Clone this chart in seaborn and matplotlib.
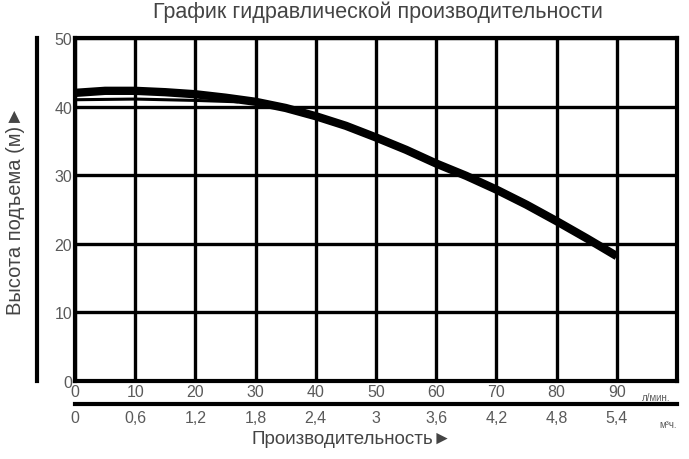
import numpy as np
import pandas as pd
import matplotlib
matplotlib.use("Agg")
import matplotlib.pyplot as plt
import seaborn as sns

# ---- data ----
flow_lmin = [0, 5, 10, 15, 20, 25, 30, 35, 40, 45, 50, 55, 60, 65, 70, 75, 80, 85, 90]
head_m = [42.0, 42.3, 42.3, 42.1, 41.8, 41.3, 40.7, 39.8, 38.6, 37.2, 35.5, 33.7,
          31.7, 29.9, 27.9, 25.7, 23.3, 20.8, 18.2]
flow_lmin_2 = [0, 10, 20, 27]
head_m_2 = [41.0, 41.1, 40.9, 40.7]

x_ticks = [0, 10, 20, 30, 40, 50, 60, 70, 80, 90, 100]
x_labels = ["0", "10", "20", "30", "40", "50", "60", "70", "80", "90", ""]
m3h_ticks = [0, 0.6, 1.2, 1.8, 2.4, 3.0, 3.6, 4.2, 4.8, 5.4]
m3h_labels = ["0", "0,6", "1,2", "1,8", "2,4", "3", "3,6", "4,2", "4,8", "5,4"]
y_ticks = [0, 10, 20, 30, 40, 50]

title = "График гидравлической производительности"
xlabel = "Производительность►"
ylabel = "Высота подъема (м)►"
unit1 = "л/мин."
unit2 = "м³ч."

sns.set_theme(style="white")
fams = ["Liberation Sans Narrow", "Liberation Sans", "DejaVu Sans"]
plt.rcParams["font.family"] = fams

W, H = 689, 460
fig = plt.figure(figsize=(W / 100, H / 100), dpi=100)
L, R, T, B = 75, 677, 39, 382
ax = fig.add_axes([L / W, 1 - B / H, (R - L) / W, (B - T) / H])

df1 = pd.DataFrame({"x": flow_lmin, "y": head_m})
df2 = pd.DataFrame({"x": flow_lmin_2, "y": head_m_2})
sns.lineplot(data=df2, x="x", y="y", ax=ax, color="black", lw=2.2, zorder=4,
             solid_joinstyle="round")
sns.lineplot(data=df1, x="x", y="y", ax=ax, color="black", lw=6.0, zorder=5,
             solid_capstyle="butt", solid_joinstyle="round")

ax.set_xlim(0, 100)
ax.set_ylim(0, 50)
ax.set_xticks(x_ticks)
ax.set_xticklabels(x_labels)
ax.set_yticks(y_ticks)
ax.grid(True, color="black", lw=2.4)
ax.set_axisbelow(True)
for s in ax.spines.values():
    s.set_color("black")
    s.set_linewidth(3.0)
txtcol = "#5a5a5a"
ax.tick_params(axis="x", length=0, pad=2, labelsize=11.5, labelcolor=txtcol)
ax.tick_params(axis="y", length=0, pad=2, labelsize=11.5, labelcolor=txtcol)
ax.set_xlabel("")
ax.set_ylabel(ylabel, fontsize=14.5, color="#444444")
ax.yaxis.set_label_coords(-(L - 25) / (R - L), 0.5)

# second x axis (m3/h)
sec = ax.secondary_xaxis(-23 / (B - T), functions=(lambda v: v * 0.06, lambda v: v / 0.06))
sec.set_xticks(m3h_ticks)
sec.set_xticklabels(m3h_labels)
sec.tick_params(length=0, pad=4, labelsize=11.5, labelcolor=txtcol)
sec.spines["bottom"].set_linewidth(3.0)
sec.spines["bottom"].set_color("black")

# left separate vertical line
secy = ax.secondary_yaxis(-(L - 37) / (R - L))
secy.set_yticks([])
secy.spines["left"].set_linewidth(3.0)
secy.spines["left"].set_color("black")

ax.text(96.5, -1.6, unit1, fontsize=7, color=txtcol, ha="center", va="top")
ax.text(98.5, -5.6, unit2, fontsize=7, color=txtcol, ha="center", va="top")

fig.text(378 / W, 1 - 12 / H, title, fontsize=15.5, color="#444444", ha="center", va="center")
fig.text(352 / W, 1 - 440 / H, xlabel, fontsize=13.5, color="#444444", ha="center", va="center")

fig.savefig("out.png", dpi=100)
